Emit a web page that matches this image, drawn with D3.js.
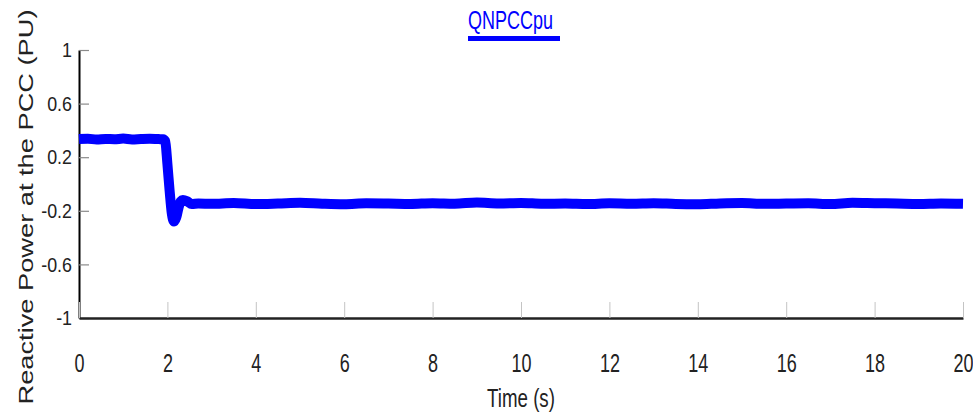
<!DOCTYPE html>
<html>
<head>
<meta charset="utf-8">
<script src="https://cdn.jsdelivr.net/npm/d3@7"></script>
<style>
  body { margin: 0; background: #fff; }
  text { font-family: "Liberation Sans", Arial, sans-serif; }
</style>
</head>
<body>
<svg id="chart" width="973" height="414"></svg>
<script>
// QNPCCpu - reactive power at the PCC
var timeS = [0, 0.2, 0.4, 0.6, 0.8, 1.0, 1.2, 1.4, 1.6, 1.8, 1.9,
  1.95, 2.0, 2.05, 2.1, 2.15, 2.2, 2.25, 2.3, 2.35, 2.45, 2.55, 2.7,
  3.0, 3.5, 4.0, 4.5, 5.0, 5.5, 6.0, 6.5, 7.0, 7.5, 8.0, 8.5, 9.0, 9.5,
  10.0, 10.5, 11.0, 11.5, 12.0, 12.5, 13.0, 13.5, 14.0, 14.5, 15.0, 15.5,
  16.0, 16.5, 17.0, 17.5, 18.0, 18.5, 19.0, 19.5, 20.0];
var qnpccPu = [0.335, 0.338, 0.332, 0.336, 0.334, 0.339, 0.333, 0.336, 0.338, 0.335, 0.334,
  0.32, 0.15, -0.05, -0.22, -0.28, -0.25, -0.18, -0.13, -0.12, -0.13, -0.15, -0.145,
  -0.148, -0.142, -0.150, -0.146, -0.140, -0.147, -0.151, -0.144, -0.146, -0.149, -0.143, -0.147, -0.138, -0.145,
  -0.141, -0.148, -0.146, -0.150, -0.144, -0.147, -0.143, -0.149, -0.151, -0.145, -0.142, -0.148,
  -0.146, -0.144, -0.150, -0.140, -0.143, -0.146, -0.149, -0.145, -0.147];
var xTicks = [0, 2, 4, 6, 8, 10, 12, 14, 16, 18, 20];
var yTicks = [1, 0.6, 0.2, -0.2, -0.6, -1];

var svg = d3.select("#chart");
var narrow = 0.72;  // the plot's text is drawn tall and narrow

var x = d3.scaleLinear().domain([0, 20]).range([79, 963]);
var y = d3.scaleLinear().domain([-1, 1]).range([318, 50]);

// y axis
var yAxis = svg.append("g")
    .attr("transform", "translate(79,0)")
    .call(d3.axisLeft(y).tickValues(yTicks).tickSize(-10).tickSizeOuter(0)
      .tickFormat(function(d) { return String(d); }));
yAxis.select(".domain").attr("stroke", "#000").attr("stroke-width", 2);
yAxis.selectAll(".tick line").attr("stroke", "#8a8a8a").attr("stroke-width", 1.2);
yAxis.selectAll(".tick text")
    .attr("x", -7 / 0.85)
    .attr("transform", "scale(0.85,1)")
    .attr("fill", "#222")
    .style("font-size", "21px");

// x axis
var xAxis = svg.append("g")
    .attr("transform", "translate(0,318)")
    .call(d3.axisBottom(x).tickValues(xTicks).tickSize(-16).tickSizeOuter(0));
xAxis.select(".domain").attr("stroke", "#222").attr("stroke-width", 2.5);
xAxis.selectAll(".tick line").attr("stroke", "#c4c4c4").attr("stroke-width", 1);
xAxis.selectAll(".tick text")
    .attr("y", 54).attr("dy", 0)
    .attr("transform", "scale(" + narrow + ",1)")
    .attr("fill", "#222")
    .style("font-size", "25px");

// the trace
var line = d3.line()
    .x(function(d, i) { return x(timeS[i]); })
    .y(function(d) { return y(d); })
    .curve(d3.curveMonotoneX);

svg.append("path")
    .datum(qnpccPu)
    .attr("fill", "none")
    .attr("stroke", "#0000ff")
    .attr("stroke-width", 10)
    .attr("stroke-linejoin", "round")
    .attr("d", line);

// title with legend bar
svg.append("text")
    .attr("transform", "translate(468,29) scale(" + narrow + ",1)")
    .attr("fill", "#0000ff")
    .style("font-size", "25px")
    .text("QNPCCpu");
svg.append("rect")
    .attr("x", 468).attr("y", 36)
    .attr("width", 92).attr("height", 5)
    .attr("fill", "#0000ff");

// axis titles
svg.append("text")
    .attr("transform", "translate(521,407) scale(" + narrow + ",1)")
    .attr("text-anchor", "middle")
    .attr("fill", "#222")
    .style("font-size", "26px")
    .text("Time (s)");

svg.append("text")
    .attr("transform", "translate(33,207) rotate(-90)")
    .attr("text-anchor", "middle")
    .attr("fill", "#222")
    .attr("textLength", 395)
    .attr("lengthAdjust", "spacingAndGlyphs")
    .style("font-size", "21px")
    .text("Reactive Power at the PCC (PU)");
</script>
</body>
</html>
